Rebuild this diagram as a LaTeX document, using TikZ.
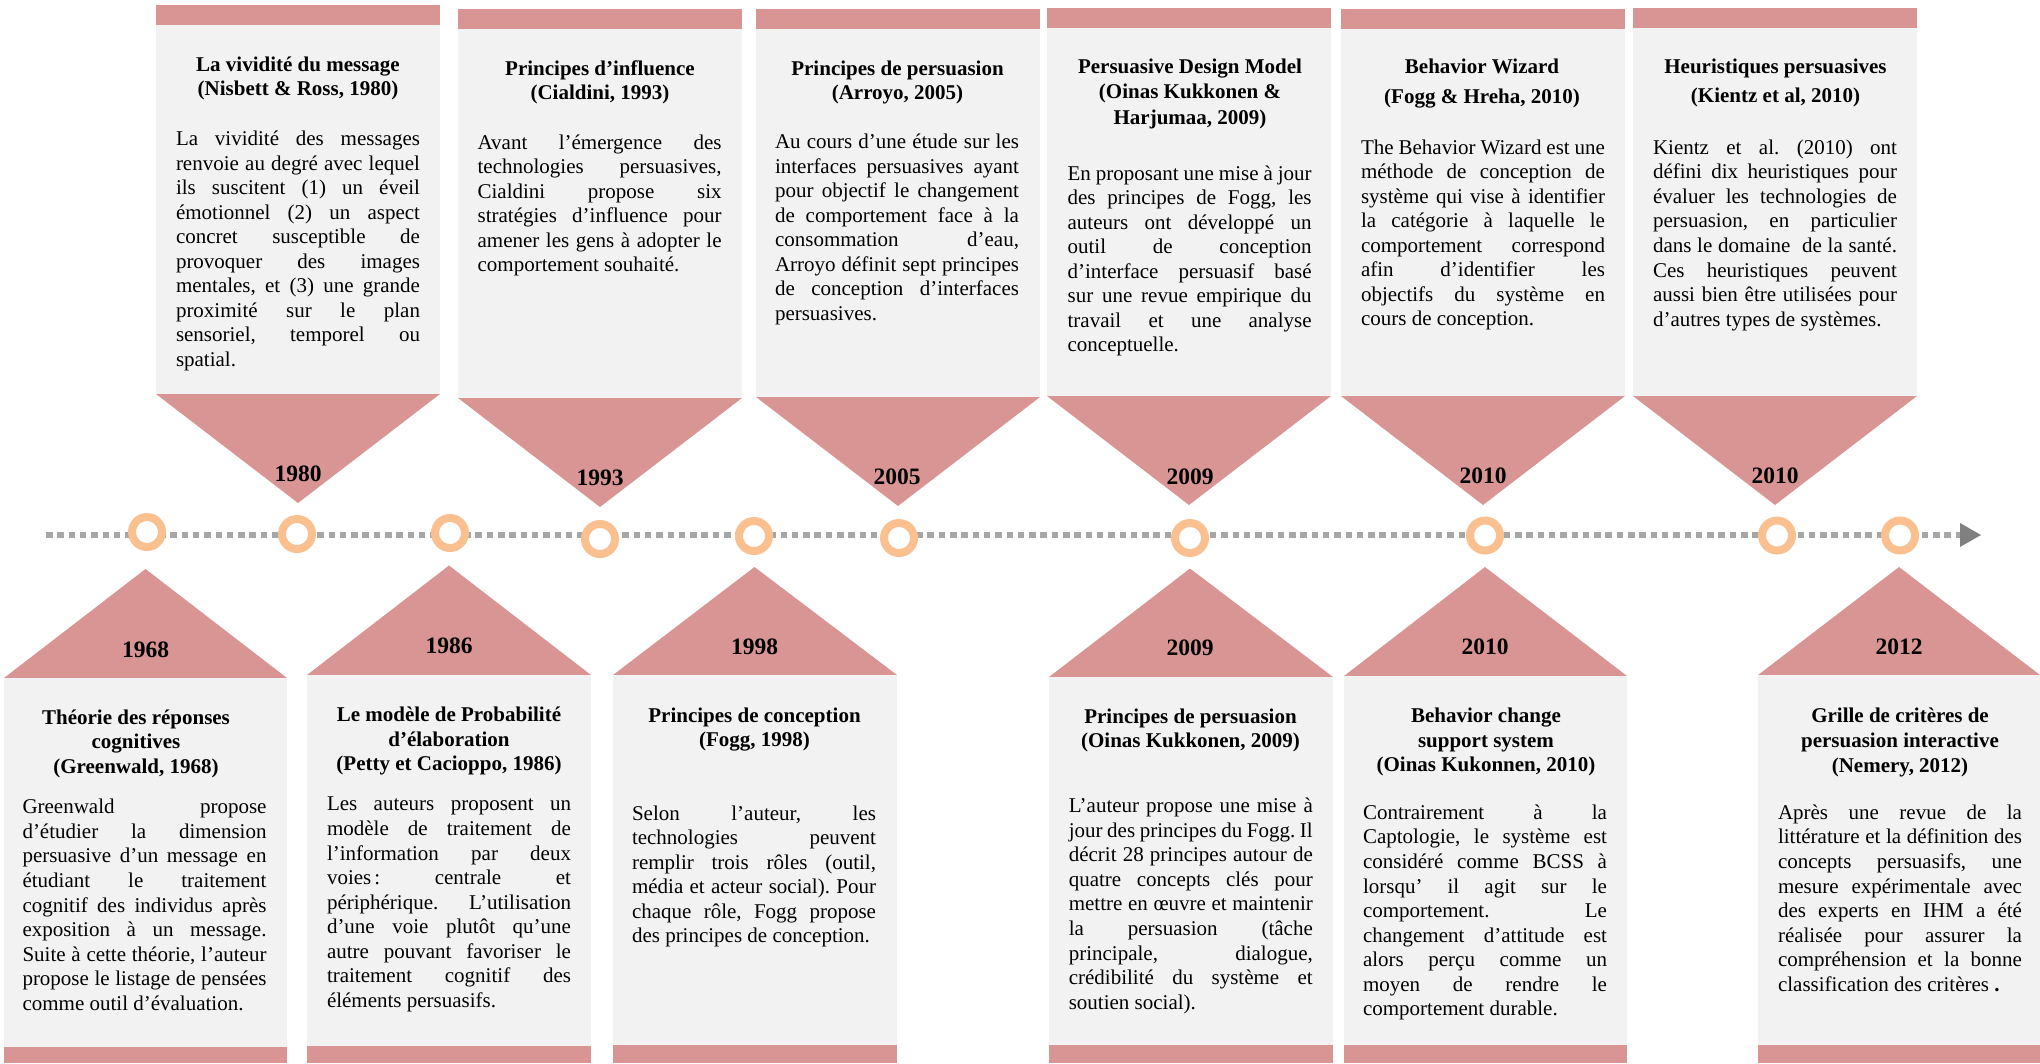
\documentclass[tikz,border=0pt]{standalone}
\usepackage{fontspec}
\setmainfont{Liberation Serif}
\usetikzlibrary{arrows.meta}
\frenchspacing
\definecolor{bandpink}{HTML}{D99594}
\definecolor{cardgray}{HTML}{F2F2F2}
\definecolor{ringorange}{HTML}{FAC090}
\definecolor{dotgray}{HTML}{A6A6A6}
\definecolor{tipgray}{HTML}{808080}
\newcommand\jline[1]{\hbox to\hsize{#1}}
\newcommand\eline[1]{\hbox to\hsize{#1\hfil}}
\newcommand\bodyblock[1]{\vtop{\fontsize{21bp}{24.55bp}\selectfont\frenchspacing\hsize=244bp\baselineskip=24.55bp #1}}
\tikzset{
  bodytxt/.style={anchor=base west, inner sep=0pt, outer sep=0pt},
  titletxt/.style={anchor=base, inner sep=0pt, font=\bfseries\fontsize{21bp}{25bp}\selectfont},
  yeartxt/.style={anchor=base, inner sep=0pt, font=\bfseries\fontsize{23.5bp}{28bp}\selectfont},
  ringnode/.style={circle, draw=ringorange, line width=8bp, fill=white, minimum size=30bp, inner sep=0pt},
  timeline/.style={draw=dotgray, line width=6.3bp, dash pattern=on 6.5bp off 4.8bp},
  bandfill/.style={fill=bandpink},
  cardfill/.style={fill=cardgray},
}
\newcommand\tlTopCard[7]{%
  \fill[bandfill] (#1,#4) rectangle (#2,#5);
  \fill[cardfill] (#1,#5) rectangle (#2,#6);
  \fill[bandfill] (#1,#6) -- (#2,#6) -- (#3,#7) -- cycle;}
\newcommand\tlBotCard[6]{%
  \fill[bandfill] (#3,#4) -- (#2,#5) -- (#1,#5) -- cycle;
  \fill[cardfill] (#1,#5) rectangle (#2,#6);
  \fill[bandfill] (#1,#6) rectangle (#2,1063);}
\begin{document}
\begin{tikzpicture}[x=1bp,y=-1bp]
\useasboundingbox (0,0) rectangle (2040,1063);
% ---------- cards ----------
\tlTopCard{156}{440}{298}{5}{25}{394}{503}
\tlTopCard{458}{742}{600}{9}{29}{398}{507}
\tlTopCard{756}{1040}{898}{9}{29}{397}{506}
\tlTopCard{1047}{1331}{1189}{8}{28}{396}{505}
\tlTopCard{1341}{1625}{1483}{9}{29}{396}{505}
\tlTopCard{1633}{1917}{1775}{8}{28}{396}{505}
\tlBotCard{4}{287}{145.5}{569}{678}{1047}
\tlBotCard{307}{591}{449}{565.5}{675}{1046}
\tlBotCard{613}{897}{754.5}{567}{675}{1045}
\tlBotCard{1049}{1333}{1190}{568.5}{677}{1045}
\tlBotCard{1344}{1627}{1485}{567}{676}{1045}
\tlBotCard{1758}{2040}{1899}{567}{675}{1045}
% ---------- timeline ----------
\coordinate (tlstart) at (46,535);
\coordinate (tlend) at (1981,535);
\draw[timeline, -{Triangle[length=21bp,width=24bp,line width=0pt,fill=tipgray,color=tipgray]}] (tlstart) -- (tlend);
\node[ringnode] (r1968) at (147,532) {};
\node[ringnode] (r1980) at (297,534) {};
\node[ringnode] (r1986) at (450,533) {};
\node[ringnode] (r1993) at (600,539) {};
\node[ringnode] (r1998) at (754,536) {};
\node[ringnode] (r2005) at (899,538) {};
\node[ringnode] (r2009) at (1190,538) {};
\node[ringnode] (r2010a) at (1485,535.5) {};
\node[ringnode] (r2010b) at (1777,535.5) {};
\node[ringnode] (r2012) at (1900,535.5) {};
% ---------- years ----------
\node[yeartxt] (y1980) at (298,481.5) {1980};
\node[yeartxt] (y1993) at (600,485.5) {1993};
\node[yeartxt] (y2005) at (897,484.5) {2005};
\node[yeartxt] (y2009t) at (1190,484.5) {2009};
\node[yeartxt] (y2010t) at (1483,483.5) {2010};
\node[yeartxt] (y2010u) at (1775,483.5) {2010};
\node[yeartxt] (y1968) at (145.5,657.5) {1968};
\node[yeartxt] (y1986) at (449,653.5) {1986};
\node[yeartxt] (y1998) at (754.5,654.5) {1998};
\node[yeartxt] (y2009b) at (1190,655) {2009};
\node[yeartxt] (y2010b) at (1485,654.5) {2010};
\node[yeartxt] (y2012) at (1899,654.5) {2012};
% ---------- top card 1 ----------
\node[titletxt] (t1a) at (298,71) {La vividité du message};
\node[titletxt] (t1b) at (298,95) {(Nisbett \& Ross, 1980)};
\node[bodytxt] (b1) at (176,145.5) {\bodyblock{%
\jline{La vividité des messages}
\jline{renvoie au degré avec lequel}
\jline{ils suscitent (1) un éveil}
\jline{émotionnel (2) un aspect}
\jline{concret susceptible de}
\jline{provoquer des images}
\jline{mentales, et (3) une grande}
\jline{proximité sur le plan}
\jline{sensoriel, temporel ou}
\eline{spatial.}}};
% ---------- top card 2 ----------
\node[titletxt] (t2a) at (600,75.5) {Principes d’influence};
\node[titletxt] (t2b) at (600,99) {(Cialdini, 1993)};
\node[bodytxt] (b2) at (477.6,149) {\bodyblock{%
\jline{Avant l’émergence des}
\jline{technologies persuasives,}
\jline{Cialdini propose six}
\jline{stratégies d’influence pour}
\jline{amener les gens à adopter le}
\eline{comportement souhaité.}}};
% ---------- top card 3 ----------
\node[titletxt] (t3a) at (897.5,75) {Principes de persuasion};
\node[titletxt] (t3b) at (897.5,99.5) {(Arroyo, 2005)};
\node[bodytxt] (b3) at (775,148.5) {\bodyblock{%
\jline{Au cours d’une étude sur les}
\jline{interfaces persuasives ayant}
\jline{pour objectif le changement}
\jline{de comportement face à la}
\jline{consommation d’eau,}
\jline{Arroyo définit sept principes}
\jline{de conception d’interfaces}
\eline{persuasives.}}};
% ---------- top card 4 ----------
\node[titletxt] (t4a) at (1190,73) {Persuasive Design Model};
\node[titletxt] (t4b) at (1190,98.5) {(Oinas Kukkonen \&};
\node[titletxt] (t4c) at (1190,124) {Harjumaa, 2009)};
\node[bodytxt] (b4) at (1067.6,180) {\bodyblock{%
\jline{En proposant une mise à jour}
\jline{des principes de Fogg, les}
\jline{auteurs ont développé un}
\jline{outil de conception}
\jline{d’interface persuasif basé}
\jline{sur une revue empirique du}
\jline{travail et une analyse}
\eline{conceptuelle.}}};
% ---------- top card 5 ----------
\node[titletxt] (t5a) at (1482,73) {Behavior Wizard};
\node[titletxt] (t5b) at (1482,103) {(Fogg \& Hreha, 2010)};
\node[bodytxt] (b5) at (1361,154) {\bodyblock{%
\jline{The Behavior Wizard est une}
\jline{méthode de conception de}
\jline{système qui vise à identifier}
\jline{la catégorie à laquelle le}
\jline{comportement correspond}
\jline{afin d’identifier les}
\jline{objectifs du système en}
\eline{cours de conception.}}};
% ---------- top card 6 ----------
\node[titletxt] (t6a) at (1775.5,73.5) {Heuristiques persuasives};
\node[titletxt] (t6b) at (1775.5,102) {(Kientz et al, 2010)};
\node[bodytxt] (b6) at (1653,154.3) {\bodyblock{%
\jline{Kientz et al. (2010) ont}
\jline{défini dix heuristiques pour}
\jline{évaluer les technologies de}
\jline{persuasion, en particulier}
\jline{dans le domaine\hspace{6bp} de la santé.}
\jline{Ces heuristiques peuvent}
\jline{aussi bien être utilisées pour}
\eline{d’autres types de systèmes.}}};
% ---------- bottom card 1 ----------
\node[titletxt] (s1a) at (136,724.5) {Théorie des réponses};
\node[titletxt] (s1b) at (136,748.5) {cognitives};
\node[titletxt] (s1c) at (136,773.5) {(Greenwald, 1968)};
\node[bodytxt] (c1) at (22.5,813.8) {\bodyblock{%
\jline{Greenwald propose}
\jline{d’étudier la dimension}
\jline{persuasive d’un message en}
\jline{étudiant le traitement}
\jline{cognitif des individus après}
\jline{exposition à un message.}
\jline{Suite à cette théorie, l’auteur}
\jline{propose le listage de pensées}
\eline{comme outil d’évaluation.}}};
% ---------- bottom card 2 ----------
\node[titletxt] (s2a) at (449,721.5) {Le modèle de Probabilité};
\node[titletxt] (s2b) at (449,746) {d’élaboration};
\node[titletxt] (s2c) at (449,770) {(Petty et Cacioppo, 1986)};
\node[bodytxt] (c2) at (327,810.9) {\bodyblock{%
\jline{Les auteurs proposent un}
\jline{modèle de traitement de}
\jline{l’information par deux}
\jline{voies\kern3bp: centrale et}
\jline{périphérique. L’utilisation}
\jline{d’une voie plutôt qu’une}
\jline{autre pouvant favoriser le}
\jline{traitement cognitif des}
\eline{éléments persuasifs.}}};
% ---------- bottom card 3 ----------
\node[titletxt] (s3a) at (754.5,722.5) {Principes de conception};
\node[titletxt] (s3b) at (754.5,746.5) {(Fogg, 1998)};
\node[bodytxt] (c3) at (632,820) {\bodyblock{%
\jline{Selon l’auteur, les}
\jline{technologies peuvent}
\jline{remplir trois rôles (outil,}
\jline{média et acteur social). Pour}
\jline{chaque rôle, Fogg propose}
\eline{des principes de conception.}}};
% ---------- bottom card 4 ----------
\node[titletxt] (s4a) at (1190.5,723.5) {Principes de persuasion};
\node[titletxt] (s4b) at (1190.5,747.5) {(Oinas Kukkonen, 2009)};
\node[bodytxt] (c4) at (1068.8,812.7) {\bodyblock{%
\jline{L’auteur propose une mise à}
\jline{jour des principes du Fogg. Il}
\jline{décrit 28 principes autour de}
\jline{quatre concepts clés pour}
\jline{mettre en œuvre et maintenir}
\jline{la persuasion (tâche}
\jline{principale, dialogue,}
\jline{crédibilité du système et}
\eline{soutien social).}}};
% ---------- bottom card 5 ----------
\node[titletxt] (s5a) at (1486,722.5) {Behavior change};
\node[titletxt] (s5b) at (1486,747) {support system};
\node[titletxt] (s5c) at (1486,771) {(Oinas Kukonnen, 2010)};
\node[bodytxt] (c5) at (1363,819.4) {\bodyblock{%
\jline{Contrairement à la}
\jline{Captologie, le système est}
\jline{considéré comme BCSS à}
\jline{lorsqu’ il agit sur le}
\jline{comportement. Le}
\jline{changement d’attitude est}
\jline{alors perçu comme un}
\jline{moyen de rendre le}
\eline{comportement durable.}}};
% ---------- bottom card 6 ----------
\node[titletxt] (s6a) at (1900,722.5) {Grille de critères de};
\node[titletxt] (s6b) at (1900,747) {persuasion interactive};
\node[titletxt] (s6c) at (1900,772) {(Nemery, 2012)};
\node[bodytxt] (c6) at (1778,819.4) {\bodyblock{%
\jline{Après une revue de la}
\jline{littérature et la définition des}
\jline{concepts persuasifs, une}
\jline{mesure expérimentale avec}
\jline{des experts en IHM a été}
\jline{réalisée pour assurer la}
\jline{compréhension et la bonne}
\eline{classification des critères {\bfseries .}}}};
\end{tikzpicture}
\end{document}
